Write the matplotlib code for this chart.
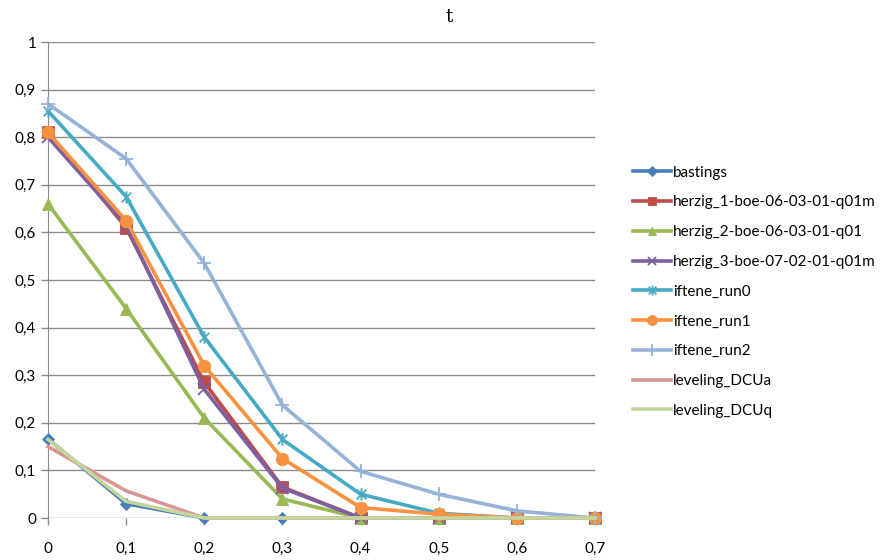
import numpy as np
import matplotlib
matplotlib.use("Agg")
import matplotlib.pyplot as plt
from matplotlib.path import Path
from matplotlib.ticker import FuncFormatter, MultipleLocator

plt.rcParams["font.family"] = ["Lato", "DejaVu Sans"]

x = [0, 0.1, 0.2, 0.3, 0.4, 0.5, 0.6, 0.7]

bastings = [0.166, 0.03, 0.0, 0.0, 0.0, 0.0, 0.0, 0.0]
herzig_1 = [0.81, 0.61, 0.285, 0.065, 0.0, 0.0, 0.0, 0.0]
herzig_2 = [0.66, 0.44, 0.21, 0.04, 0.0, 0.0, 0.0, 0.0]
herzig_3 = [0.80, 0.615, 0.27, 0.063, 0.0, 0.0, 0.0, 0.0]
iftene_run0 = [0.855, 0.675, 0.38, 0.165, 0.05, 0.01, 0.0, 0.0]
iftene_run1 = [0.81, 0.625, 0.32, 0.125, 0.022, 0.008, 0.0, 0.0]
iftene_run2 = [0.87, 0.755, 0.535, 0.237, 0.098, 0.05, 0.015, 0.0]
leveling_DCUa = [0.15, 0.057, 0.0, 0.0, 0.0, 0.0, 0.0, 0.0]
leveling_DCUq = [0.165, 0.035, 0.0, 0.0, 0.0, 0.0, 0.0, 0.0]

names = ["bastings", "herzig_1-boe-06-03-01-q01m", "herzig_2-boe-06-03-01-q01",
         "herzig_3-boe-07-02-01-q01m", "iftene_run0", "iftene_run1", "iftene_run2",
         "leveling_DCUa", "leveling_DCUq"]
series = [bastings, herzig_1, herzig_2, herzig_3, iftene_run0, iftene_run1,
          iftene_run2, leveling_DCUa, leveling_DCUq]
colors = ["#4A7EBB", "#BE4B48", "#98B954", "#7D60A0", "#46AAC5", "#F69240",
          "#95B3D7", "#D99694", "#C3D69B"]

# asterisk marker: x with a vertical bar
star = Path([(-1, -1), (1, 1), (-1, 1), (1, -1), (0, -1.3), (0, 1.3)],
            [Path.MOVETO, Path.LINETO, Path.MOVETO, Path.LINETO, Path.MOVETO, Path.LINETO])
markers = ["D", "s", "^", "x", star, "o", "+", None, None]
msizes = [6, 8, 8, 8, 9, 9, 10, 0, 0]

fig = plt.figure(figsize=(8.89, 5.6), dpi=100)
ax = fig.add_axes([48 / 889, 42 / 560, (595 - 48) / 889, (518 - 42) / 560])

for vals, name, c, m, ms in zip(series, names, colors, markers, msizes):
    ax.plot(x, vals, color=c, lw=2.6, marker=m, markersize=ms, label=name,
            markeredgewidth=1.3 if m in ("x", "+") or m is star else 0.6,
            markeredgecolor=c, markerfacecolor=c, clip_on=False, zorder=3)

ax.set_xlim(0, 0.7)
ax.set_ylim(0, 1)
ax.yaxis.set_major_locator(MultipleLocator(0.1))
ax.xaxis.set_major_locator(MultipleLocator(0.1))
fmt = FuncFormatter(lambda v, p: ("%g" % round(v, 2)).replace(".", ","))
ax.xaxis.set_major_formatter(fmt)
ax.yaxis.set_major_formatter(fmt)
ax.grid(axis="y", color="#8C8C8C", lw=1)
ax.set_axisbelow(True)
for s in ["top", "right", "bottom"]:
    ax.spines[s].set_visible(False)
ax.spines["left"].set_color("#8C8C8C")
ax.tick_params(axis="both", colors="#8C8C8C", labelcolor="black", labelsize=11,
               length=5, width=1)
ax.tick_params(axis="x", pad=12)

fig.text(449 / 889, 1 - 17 / 560, "t", family="DejaVu Serif", fontsize=13,
         ha="center", va="center")

leg = ax.legend(loc="upper left", bbox_to_anchor=(619 / 889, 1 - 152 / 560),
                bbox_transform=fig.transFigure, frameon=False, fontsize=11,
                handlelength=2.5, labelspacing=1.03, handletextpad=0.15,
                markerscale=0.8)

fig.savefig("out.png", dpi=100)
